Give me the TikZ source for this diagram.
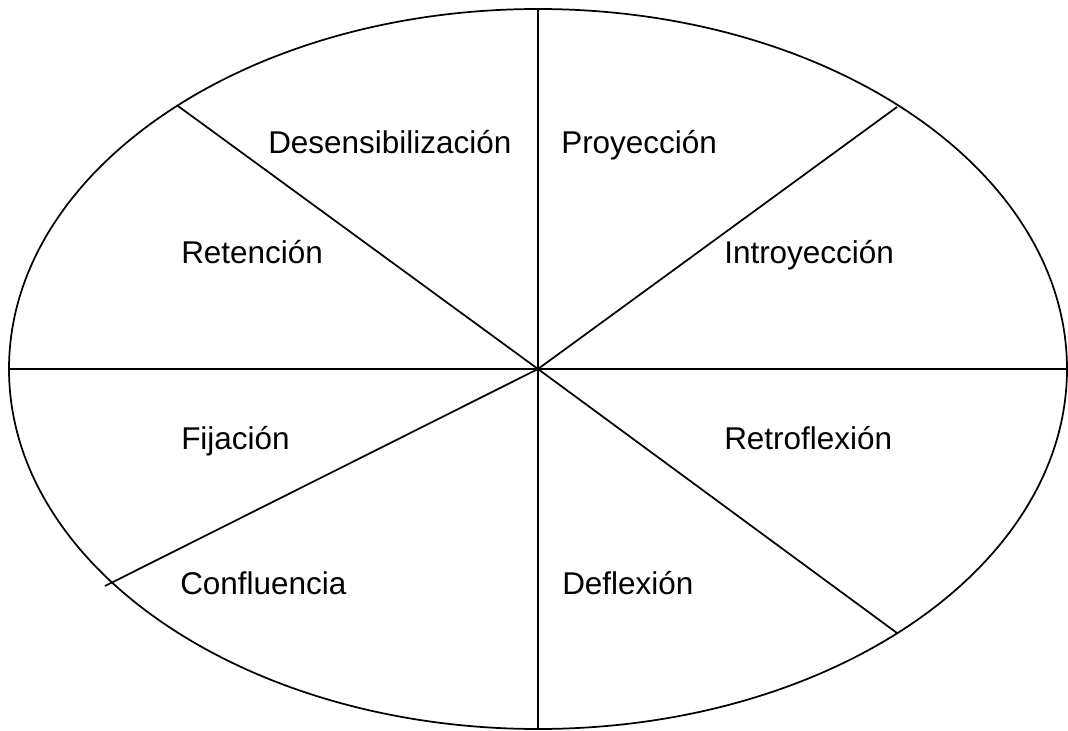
\documentclass[tikz,border=0pt]{standalone}
\usepackage{fontspec}
\setmainfont{Liberation Sans}
\usetikzlibrary{positioning}
\tikzset{%
  % Specifications for style of nodes and lines:
        rim/.style = {draw=black, line width=1.3pt},
      spoke/.style = {draw=black, line width=1.3pt},
  mechanism/.style = {inner sep=0pt, anchor=base west,
                      font=\fontsize{23.6}{28}\selectfont},
}
\begin{document}
\begin{tikzpicture}[x=0.75pt, y=-0.75pt]
                    \useasboundingbox (0,0) rectangle (1068,731);
                    \coordinate (centre) at (538,369);
                    \path[rim] (centre) ellipse [x radius=529, y radius=360];

                    \coordinate (top)      at (538,9);
                    \coordinate (bottom)   at (538,729);
                    \coordinate (left)     at (9,369);
                    \coordinate (right)    at (1067,369);
                    \coordinate (upLeft)   at (178,106);
                    \coordinate (upRight)  at (897,107);
                    \coordinate (lowRight) at (897,633);
                    \coordinate (lowLeft)  at (105,586);

                    \node (desens)   [mechanism] at (268,154) {Desensibilización};
                    \node (proy)     [mechanism] at (561,154) {Proyección};
                    \node (reten)    [mechanism] at (181,263) {Retención};
                    \node (introy)   [mechanism] at (724,263) {Introyección};
                    \node (fija)     [mechanism] at (181,449) {Fijación};
                    \node (retrof)   [mechanism] at (724,449) {Retroflexión};
                    \node (conflu)   [mechanism] at (180,594) {Confluencia};
                    \node (deflex)   [mechanism] at (562,594) {Deflexión};

                    \draw[spoke] (top) -- (bottom);
                    \draw[spoke] (left) -- (right);
                    \draw[spoke] (centre) -- (upLeft);
                    \draw[spoke] (centre) -- (upRight);
                    \draw[spoke] (centre) -- (lowRight);
                    \draw[spoke] (centre) -- (lowLeft);
                \end{tikzpicture}
\end{document}
